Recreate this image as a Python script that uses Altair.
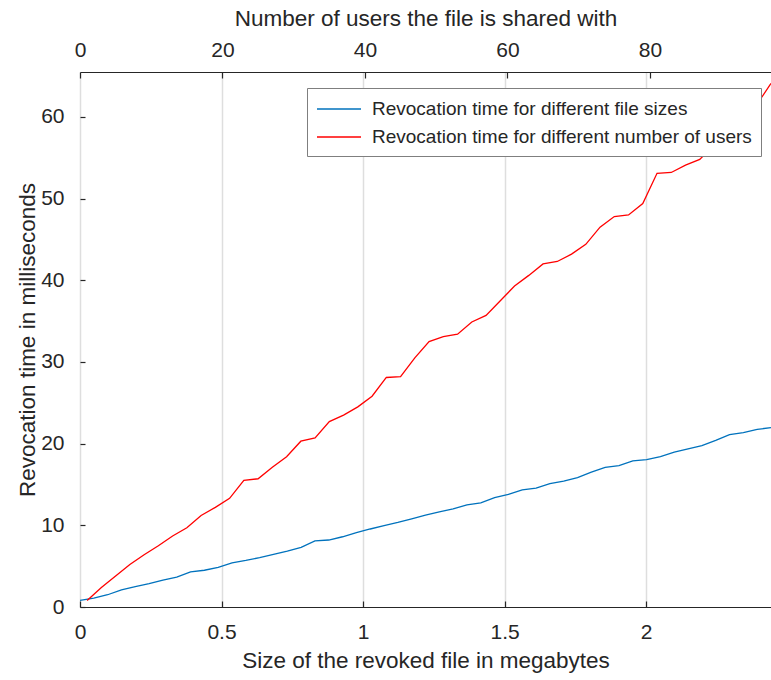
import altair as alt
import pandas as pd

# Revocation time vs. size of the revoked file (50 KB steps)
size_kb = [0, 50, 100, 150, 200, 250, 300, 350, 400, 450,
           500, 550, 600, 650, 700, 750, 800, 850, 900, 950,
           1000, 1050, 1100, 1150, 1200, 1250, 1300, 1350, 1400, 1450,
           1500, 1550, 1600, 1650, 1700, 1750, 1800, 1850, 1900, 1950,
           2000, 2050, 2100, 2150, 2200, 2250, 2300, 2350, 2400, 2450,
           2500]
time_by_size_ms = [0.8, 1.1, 1.5, 2.1, 2.5, 2.85, 3.3, 3.65, 4.3, 4.5,
                   4.85, 5.4, 5.7, 6.05, 6.45, 6.85, 7.3, 8.1, 8.2, 8.6,
                   9.1, 9.55, 9.95, 10.35, 10.8, 11.25, 11.65, 12.0, 12.5, 12.75,
                   13.4, 13.8, 14.35, 14.55, 15.1, 15.4, 15.85, 16.5, 17.1, 17.3,
                   17.9, 18.05, 18.4, 18.95, 19.35, 19.75, 20.4, 21.1, 21.35, 21.75,
                   21.95]

# Revocation time vs. number of users the file is shared with
users = [1, 3, 5, 7, 9, 11, 13, 15, 17, 19,
         21, 23, 25, 27, 29, 31, 33, 35, 37, 39,
         41, 43, 45, 47, 49, 51, 53, 55, 57, 59,
         61, 63, 65, 67, 69, 71, 73, 75, 77, 79,
         81, 83, 85, 87, 89, 91, 93, 95, 97]
time_by_users_ms = [0.8, 2.4, 3.8, 5.2, 6.4, 7.5, 8.7, 9.7, 11.2, 12.2,
                    13.3, 15.5, 15.7, 17.1, 18.4, 20.3, 20.7, 22.7, 23.5, 24.5,
                    25.8, 28.1, 28.2, 30.5, 32.5, 33.1, 33.4, 34.9, 35.7, 37.5,
                    39.3, 40.6, 42.0, 42.3, 43.2, 44.4, 46.5, 47.8, 48.0, 49.4,
                    53.1, 53.2, 54.1, 54.8, 56.6, 58.0, 59.6, 61.5, 64.1]

series_names = ["Revocation time for different file sizes",
                "Revocation time for different number of users"]
series_colors = ["#0072BD", "#FF0000"]

mb_ticks = [0, 0.5, 1, 1.5, 2]
user_ticks = [0, 20, 40, 60, 80]
ms_ticks = [0, 10, 20, 30, 40, 50, 60]

df_size = pd.DataFrame({"mb": [k / 1024 for k in size_kb],
                        "ms": time_by_size_ms,
                        "series": series_names[0]})
df_users = pd.DataFrame({"users": users,
                         "ms": time_by_users_ms,
                         "series": series_names[1]})

FONT = "Liberation Sans"
INK = "#262626"
GRID = "#dedede"

y_enc = alt.Y(
    "ms:Q",
    scale=alt.Scale(domain=[0, 65.5], nice=False, zero=False),
    axis=alt.Axis(title="Revocation time in milliseconds", values=ms_ticks,
                  grid=False, domain=False, tickColor=INK, labelFlush=False,
                  tickSize={"expr": "-5"}, labelPadding=21, titlePadding=1),
)

# Legend sample line: a wide horizontal stroke (4 units long in symbol space)
color_enc = alt.Color(
    "series:N",
    scale=alt.Scale(domain=series_names, range=series_colors),
    legend=alt.Legend(title=None, orient="none", legendX=227, legendY=16,
                      fillColor="white", strokeColor="#7f7f7f", padding=9,
                      symbolType="M-1,0L3,0", symbolSize=484,
                      symbolStrokeWidth=1.3, symbolFillColor="transparent",
                      labelFontSize=19, labelOffset=32, labelLimit=600,
                      rowPadding=6),
)

by_size = alt.Chart(df_size).mark_line(strokeWidth=1.3, clip=True).encode(
    x=alt.X("mb:Q",
            scale=alt.Scale(domain=[0, 2500 / 1024], nice=False, zero=False),
            axis=alt.Axis(title="Size of the revoked file in megabytes",
                          orient="bottom", values=mb_ticks, format="~g",
                          grid=True, gridColor=GRID, gridWidth=1.5,
                          domainColor=INK, tickColor=INK, labelFlush=False,
                          tickSize={"expr": "-6"}, labelPadding=20,
                          titlePadding=7)),
    y=y_enc,
    color=color_enc,
)

by_users = alt.Chart(df_users).mark_line(strokeWidth=1.3, clip=True).encode(
    x=alt.X("users:Q",
            scale=alt.Scale(domain=[0, 97], nice=False, zero=False),
            axis=alt.Axis(title="Number of users the file is shared with",
                          orient="top", values=user_ticks, grid=False,
                          domainColor=INK, tickColor=INK, labelFlush=False,
                          tickSize={"expr": "-6"}, labelPadding=18,
                          titlePadding=9)),
    y=y_enc,
    color=color_enc,
)

chart = (
    alt.layer(by_size, by_users)
    .resolve_scale(x="independent")
    .properties(width=691, height=535,
                autosize=alt.AutoSizeParams(type="none"),
                padding={"left": 80, "top": 72, "right": 0, "bottom": 73})
    .configure_view(stroke=None)
    .configure_axis(labelFont=FONT, labelFontSize=21, labelColor=INK,
                    titleFont=FONT, titleFontSize=22.5, titleFontWeight="normal",
                    titleColor=INK, domainWidth=1.2, tickWidth=1.2)
    .configure_legend(labelFont=FONT, labelColor=INK)
)

chart.save("out.html", embed_options={"renderer": "svg", "actions": False})
